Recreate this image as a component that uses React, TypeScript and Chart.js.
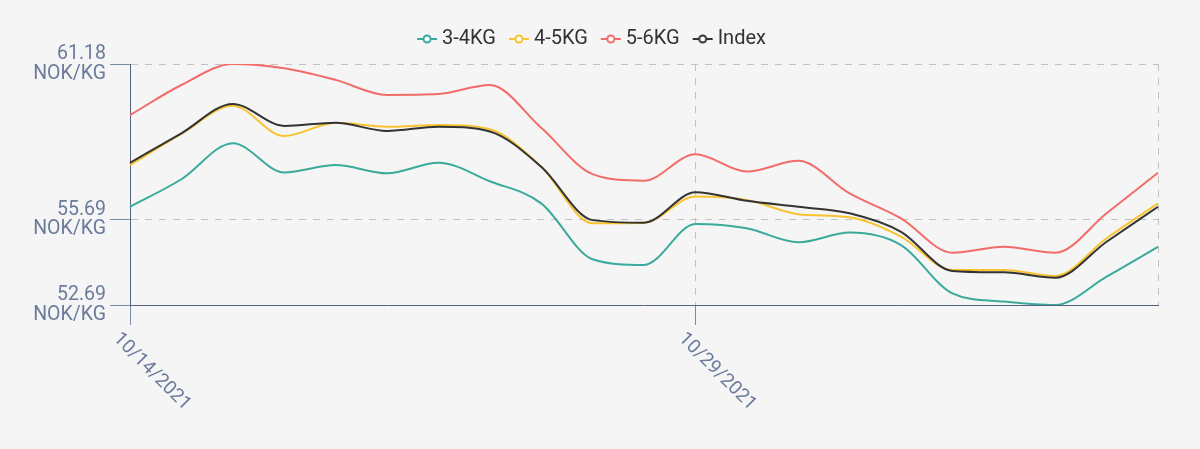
import React, { useEffect, useRef } from "react";
import { Chart, registerables } from "chart.js";

Chart.register(...registerables);

const DATES = [
  "10/14/2021", "10/15/2021", "10/18/2021", "10/19/2021", "10/20/2021", "10/21/2021", "10/22/2021",
  "10/25/2021", "10/26/2021", "10/27/2021", "10/28/2021", "10/29/2021", "11/1/2021", "11/2/2021",
  "11/3/2021", "11/4/2021", "11/5/2021", "11/8/2021", "11/9/2021", "11/10/2021", "11/11/2021",
];
const SHOWN_X_LABELS = ["10/14/2021", "10/29/2021"];
const Y_TICKS = [52.69, 55.69, 61.18];
const Y_UNIT = "NOK/KG";

const KG_3_4 = [56.15, 57.12, 58.39, 57.36, 57.62, 57.33, 57.7, 57.05, 56.27, 54.3, 54.1, 55.54, 55.39, 54.9, 55.24, 54.8, 53.1, 52.81, 52.69, 53.69, 54.74];
const KG_4_5 = [57.62, 58.72, 59.71, 58.64, 59.11, 58.97, 59.03, 58.88, 57.56, 55.57, 55.59, 56.51, 56.39, 55.89, 55.78, 55.1, 53.92, 53.92, 53.71, 55.04, 56.27];
const KG_5_6 = [59.38, 60.44, 61.18, 61.03, 60.62, 60.09, 60.12, 60.44, 58.93, 57.3, 57.07, 58.0, 57.39, 57.77, 56.62, 55.74, 54.53, 54.74, 54.53, 55.92, 57.35];
const INDEX = [57.7, 58.74, 59.77, 59.0, 59.11, 58.82, 58.97, 58.8, 57.56, 55.68, 55.59, 56.66, 56.36, 56.15, 55.92, 55.27, 53.89, 53.84, 53.65, 54.92, 56.15];

const SERIES_NAMES = ["3-4KG", "4-5KG", "5-6KG", "Index"];
const COLORS = ["#3aaa9b", "#f9c32f", "#f26c68", "#333333"];

const AXIS_TEXT = "#6b7b9b";
const TICK_COLOR = "#7c8aa6";
const BORDER_COLOR = "#56627c";
const GRID_COLOR = "#c2c2c2";

function makeIcon(color: string) {
  const c = document.createElement("canvas");
  c.width = 22;
  c.height = 12;
  const g = c.getContext("2d")!;
  g.strokeStyle = color;
  g.lineWidth = 2;
  g.beginPath();
  g.moveTo(1, 6);
  g.lineTo(21, 6);
  g.stroke();
  g.beginPath();
  g.arc(11, 6, 3.5, 0, Math.PI * 2);
  g.fillStyle = "#ffffff";
  g.fill();
  g.stroke();
  return c;
}

export default function App() {
  const ref = useRef<HTMLCanvasElement | null>(null);

  useEffect(() => {
    document.body.style.margin = "0";
    document.body.style.background = "#f5f5f5";
    const canvas = ref.current!;
    const shownIdx = SHOWN_X_LABELS.map((l) => DATES.indexOf(l));

    const legendSpacer = {
      id: "legendSpacer",
      beforeInit(chart: any) {
        const orig = chart.legend.fit;
        chart.legend.fit = function () {
          orig.call(this);
          this.height += 5;
        };
      },
    };

    const xLabels = {
      id: "xLabels",
      afterDraw(chart: any) {
        const { ctx } = chart;
        const x = chart.scales.x;
        ctx.save();
        ctx.font = "19px Roboto";
        ctx.fillStyle = AXIS_TEXT;
        ctx.textAlign = "left";
        ctx.textBaseline = "middle";
        shownIdx.forEach((i) => {
          const px = x.getPixelForValue(i);
          ctx.save();
          ctx.translate(px - 14, x.bottom + 11);
          ctx.rotate(Math.PI / 4);
          ctx.fillText(DATES[i], 0, 0);
          ctx.restore();
        });
        ctx.restore();
      },
    };

    const seriesData = [KG_3_4, KG_4_5, KG_5_6, INDEX];
    const chart = new Chart(canvas, {
      type: "line",
      data: {
        labels: DATES,
        datasets: seriesData.map((d, i) => ({
          label: SERIES_NAMES[i],
          data: d,
          borderColor: COLORS[i],
          backgroundColor: COLORS[i],
          borderWidth: 2,
          pointRadius: 0,
          pointHoverRadius: 0,
          pointStyle: makeIcon(COLORS[i]) as any,
          cubicInterpolationMode: "monotone",
          fill: false,
          order: i === 3 ? -1 : i,
        })),
      },
      options: {
        animation: false,
        responsive: false,
        events: [],
        layout: { padding: { top: 11, left: 30, right: 42, bottom: 124 } },
        plugins: {
          tooltip: { enabled: false },
          legend: {
            position: "top",
            labels: {
              usePointStyle: true,
              pointStyleWidth: 10,
              padding: 18,
              color: "#333333",
              font: { family: "Roboto", size: 20 },
              sort: (a: any, b: any) => a.datasetIndex - b.datasetIndex,
            },
          },
        },
        scales: {
          x: {
            type: "category",
            ticks: { display: false },
            border: { display: true, color: BORDER_COLOR, width: 1, dash: [7, 7] },
            grid: {
              color: (ctx: any) => (ctx.index === 11 || ctx.index === 20 ? GRID_COLOR : "rgba(0,0,0,0)"),
              tickColor: (ctx: any) => (shownIdx.includes(ctx.index) ? TICK_COLOR : "rgba(0,0,0,0)"),
              tickLength: 20,
              tickBorderDash: [],
              lineWidth: 1,
            },
          },
          y: {
            type: "linear",
            min: Y_TICKS[0],
            max: Y_TICKS[Y_TICKS.length - 1],
            afterBuildTicks: (axis: any) => {
              axis.ticks = Y_TICKS.map((v) => ({ value: v }));
            },
            afterFit: (axis: any) => {
              axis.width = 100;
            },
            ticks: {
              color: AXIS_TEXT,
              padding: 4,
              font: { family: "Roboto", size: 19.5, lineHeight: 1 },
              callback: (v: any) => [Number(v).toFixed(2), Y_UNIT],
            },
            border: { display: true, color: BORDER_COLOR, width: 1, dash: [7, 7] },
            grid: {
              color: (ctx: any) => (ctx.tick && ctx.tick.value === Y_TICKS[0] ? "rgba(0,0,0,0)" : GRID_COLOR),
              tickColor: TICK_COLOR,
              tickLength: 20,
              tickBorderDash: [],
              lineWidth: 1,
            },
          },
        },
      },
      plugins: [legendSpacer, xLabels],
    });
    return () => chart.destroy();
  }, []);

  return (
    <div style={{ width: 1200, height: 449 }}>
      <canvas ref={ref} width={1200} height={449} />
    </div>
  );
}
